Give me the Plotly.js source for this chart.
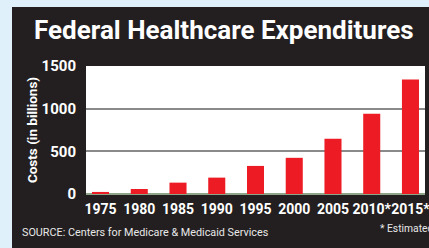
<!DOCTYPE html>
<html>
<head>
<meta charset="utf-8">
<script src="https://cdn.plot.ly/plotly-3.0.1.min.js"></script>
<style>
  html, body { margin: 0; padding: 0; background: #dff0fb; width: 429px; height: 248px; overflow: hidden; }
  #chart { position: absolute; left: 12px; top: 7px; width: 417px; height: 241px; }
</style>
</head>
<body>
<div id="chart"></div>
<script>
const years = ["1975", "1980", "1985", "1990", "1995", "2000", "2005", "2010*", "2015*"];
const costs = [24, 59, 133, 192, 329, 424, 647, 941, 1341];
const yTicks = [0, 500, 1000, 1500];
const yTickLabels = ["0", "500", "1000", "1500"];

const font = "Roboto, 'Liberation Sans', Arial, sans-serif";

const trace = {
  type: "bar",
  x: years,
  y: costs,
  marker: { color: "#ed1c24", line: { width: 0 } },
  hoverinfo: "skip"
};

const layout = {
  width: 417,
  height: 241,
  margin: { l: 74, r: 4, t: 59, b: 54 },
  paper_bgcolor: "#231f20",
  plot_bgcolor: "#ffffff",
  bargap: 0.56,
  showlegend: false,
  title: {
    text: "<b>Federal Healthcare Expenditures</b>",
    font: { family: font, size: 26, color: "#ffffff" },
    x: 0.508, xanchor: "center",
    y: 0.905, yanchor: "middle",
    xref: "container", yref: "container"
  },
  xaxis: {
    type: "category",
    range: [-0.375, 8.375],
    showgrid: false,
    showline: false,
    zeroline: false,
    ticks: "",
    tickangle: 0,
    ticklabelstandoff: 5,
    tickfont: { family: font, size: 14, color: "#ffffff", weight: "bold" },
    fixedrange: true
  },
  yaxis: {
    range: [0, 1500],
    tickvals: yTicks,
    ticktext: yTickLabels,
    showgrid: true,
    gridcolor: "#8a8a8a",
    gridwidth: 2,
    zeroline: true,
    zerolinecolor: "#8fa58a",
    zerolinewidth: 2,
    showline: false,
    ticks: "",
    ticklabelstandoff: 9,
    tickfont: { family: font, size: 15, color: "#ffffff", weight: "bold" },
    title: {
      text: "<b>Costs (in billions)</b>",
      font: { family: font, size: 13.5, color: "#ffffff" },
      standoff: 0
    },
    fixedrange: true
  },
  annotations: [
    {
      text: "SOURCE: Centers for Medicare &amp; Medicaid Services",
      xref: "paper", yref: "paper",
      x: -0.195, y: -0.297, xanchor: "left", yanchor: "middle",
      showarrow: false,
      font: { family: font, size: 10.8, color: "#e8e8e8" }
    },
    {
      text: "* Estimated",
      xref: "paper", yref: "paper",
      x: 0.862, y: -0.266, xanchor: "left", yanchor: "middle",
      showarrow: false,
      font: { family: font, size: 10.3, color: "#e8e8e8" }
    }
  ]
};

Plotly.newPlot("chart", [trace], layout, { displayModeBar: false, staticPlot: true });
</script>
</body>
</html>
